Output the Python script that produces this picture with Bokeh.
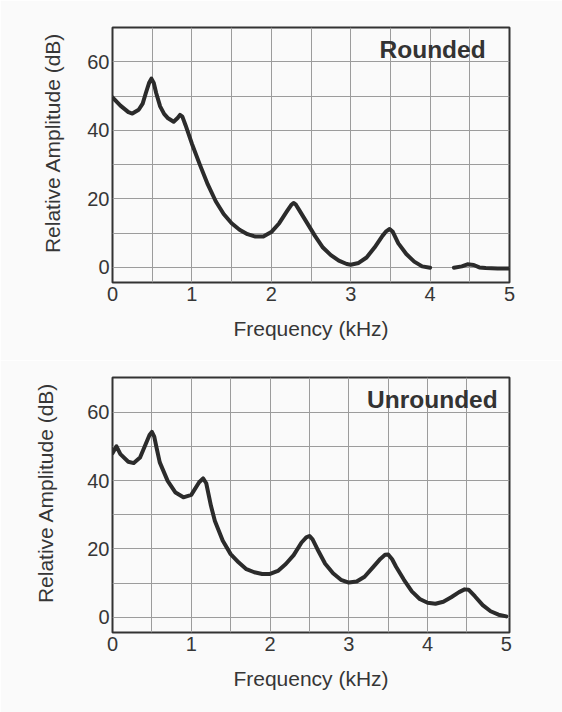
from bokeh.plotting import figure
from bokeh.layouts import column
from bokeh.models import Range1d, FixedTicker, Label
from bokeh.embed import file_html
from bokeh.resources import INLINE

nan = float("nan")

# ---- data ----
rounded_khz = [0.0, 0.1, 0.2, 0.25, 0.33, 0.38, 0.42, 0.46, 0.49, 0.52, 0.55, 0.6, 0.65, 0.7,
               0.77, 0.82, 0.85, 0.88, 0.92, 1.0, 1.1, 1.2, 1.3, 1.4, 1.5, 1.6, 1.7, 1.8,
               1.9, 2.0, 2.1, 2.2, 2.25, 2.28, 2.31, 2.35, 2.45, 2.55, 2.65, 2.75, 2.85,
               2.95, 3.0, 3.1, 3.2, 3.3, 3.4, 3.45, 3.49, 3.53, 3.6, 3.7, 3.8, 3.9, 4.0,
               4.15, 4.3, 4.4, 4.47, 4.55, 4.62, 4.7, 4.85, 5.0]
rounded_db = [49.6, 47.2, 45.3, 44.9, 46.0, 47.8, 50.9, 53.8, 55.1, 53.8, 50.9, 47.0, 44.8, 43.5,
              42.5, 43.6, 44.5, 44.0, 41.5, 36.1, 30.0, 24.2, 19.3, 15.6, 12.9, 11.0, 9.7, 9.0,
              9.0, 10.3, 12.9, 16.5, 18.2, 18.8, 18.3, 16.8, 13.0, 9.2, 5.8, 3.6, 2.0,
              1.0, 0.8, 1.3, 2.9, 5.8, 9.2, 10.6, 11.2, 10.4, 7.0, 3.9, 1.7, 0.3, -0.1,
              nan, -0.1, 0.3, 0.9, 0.7, 0.0, -0.2, -0.3, -0.3]

unrounded_khz = [0.0, 0.05, 0.1, 0.2, 0.27, 0.35, 0.43, 0.47, 0.5, 0.53, 0.56, 0.6, 0.7, 0.8,
                 0.9, 1.0, 1.1, 1.15, 1.19, 1.25, 1.3, 1.4, 1.5, 1.6, 1.7, 1.8, 1.9, 2.0,
                 2.1, 2.2, 2.3, 2.4, 2.46, 2.5, 2.54, 2.6, 2.7, 2.8, 2.9, 3.0, 3.1, 3.2,
                 3.3, 3.4, 3.46, 3.5, 3.55, 3.6, 3.7, 3.8, 3.9, 4.0, 4.1, 4.2, 4.3, 4.4,
                 4.47, 4.52, 4.6, 4.7, 4.8, 4.9, 5.0]
unrounded_db = [48.0, 50.0, 47.7, 45.5, 45.1, 46.7, 51.1, 53.3, 54.2, 52.8, 49.5, 45.3, 39.9, 36.5,
                35.1, 35.8, 39.5, 40.6, 39.2, 32.6, 28.2, 22.4, 18.5, 16.1, 14.1, 13.2, 12.7, 12.7,
                13.6, 15.6, 18.2, 21.9, 23.4, 23.8, 22.8, 20.0, 15.7, 12.9, 11.0, 10.2, 10.5, 11.9,
                14.5, 17.1, 18.3, 18.4, 17.0, 14.8, 11.0, 7.6, 5.4, 4.3, 4.0, 4.6, 5.9, 7.4,
                8.2, 8.1, 6.2, 3.6, 1.8, 0.8, 0.3]

x_ticks = [0, 1, 2, 3, 4, 5]
y_ticks = [0, 20, 40, 60]
x_grid = [0.5, 1, 1.5, 2, 2.5, 3, 3.5, 4, 4.5]
y_grid = [0, 10, 20, 30, 40, 50, 60]

FONT = "Liberation Sans"
BG = "#fafafa"
INK = "#363636"


def make_panel(xs, ys, title, height, borders, x_end, y_rng, title_pos, ylab_standoff):
    top, bottom, left, right = borders
    p = figure(width=562, height=height, output_backend="svg", toolbar_location=None,
               x_range=Range1d(0, x_end), y_range=Range1d(*y_rng),
               min_border_top=top, min_border_bottom=bottom,
               min_border_left=left, min_border_right=right,
               background_fill_color=BG, border_fill_color=BG,
               title="Relative Amplitude (dB)", title_location="left")
    p.title.align = "right"
    p.title.offset = 5
    p.title.standoff = ylab_standoff
    p.title.text_font = FONT
    p.title.text_font_size = "21px"
    p.title.text_font_style = "normal"
    p.title.text_color = INK

    p.outline_line_color = "#333333"
    p.outline_line_width = 2
    p.xaxis.ticker = FixedTicker(ticks=x_ticks)
    p.yaxis.ticker = FixedTicker(ticks=y_ticks)
    p.xgrid.ticker = FixedTicker(ticks=x_grid)
    p.ygrid.ticker = FixedTicker(ticks=y_grid)
    for g in (p.xgrid, p.ygrid):
        g.grid_line_color = "#9c9c9c"
        g.grid_line_width = 1
    for ax in (p.xaxis, p.yaxis):
        ax.axis_line_color = None
        ax.major_tick_line_color = None
        ax.minor_tick_line_color = None
        ax.major_tick_out = 0
        ax.major_tick_in = 0
        ax.major_label_text_font = FONT
        ax.major_label_text_font_size = "20px"
        ax.major_label_text_color = INK
        ax.axis_label_text_font = FONT
        ax.axis_label_text_font_size = "21px"
        ax.axis_label_text_font_style = "normal"
        ax.axis_label_text_color = INK
    p.xaxis.major_label_standoff = 4
    p.yaxis.major_label_standoff = 3
    p.xaxis.axis_label = "Frequency (kHz)"
    p.xaxis.axis_label_standoff = 13

    p.line(xs, ys, line_color="#2b2b2b", line_width=4, line_join="round", line_cap="round")

    p.add_layout(Label(x=title_pos[0], y=title_pos[1], text=title, text_align="right",
                       text_baseline="middle", text_font=FONT, text_font_style="bold",
                       text_font_size="24.5px", text_color="#333333"))
    return p


p1 = make_panel(rounded_khz, rounded_db, "Rounded", 360, (27, 78, 112, 50), 5.0,
                (-4.4, 70.0), (4.70, 63.6), 42)
p2 = make_panel(unrounded_khz, unrounded_db, "Unrounded", 352, (17, 80, 106, 53), 5.04,
                (-4.4, 70.1), (4.89, 63.8), 56)

layout = column(p1, p2, spacing=0)
open("out.html", "w").write(file_html(layout, INLINE))
